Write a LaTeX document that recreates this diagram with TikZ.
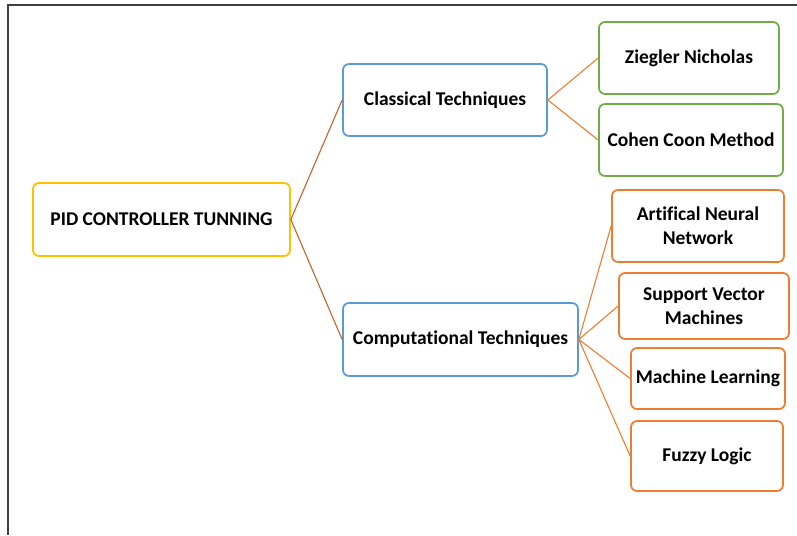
\documentclass[tikz,border=0pt]{standalone}
\usepackage{fontspec}
\setmainfont{Carlito}[Ligatures=NoCommon]
\usepackage{tikz}
\usetikzlibrary{positioning}

\definecolor{pidyellow}{HTML}{FFC000}
\definecolor{techblue}{HTML}{5B9BD5}
\definecolor{classgreen}{HTML}{70AD47}
\definecolor{comporange}{HTML}{ED7D31}
\definecolor{linkbrown}{HTML}{C0652A}

\begin{document}
\begin{tikzpicture}[%
    x=1pt, y=-1pt,
    box/.style={draw, rounded corners=6pt, line width=1.7pt, fill=white,
                font=\bfseries\fontsize{19.5}{24}\selectfont, align=center,
                inner sep=2pt},
    root/.style={box, draw=pidyellow},
    tech/.style={box, draw=techblue},
    classic/.style={box, draw=classgreen},
    comp/.style={box, draw=comporange},
    link/.style={draw=comporange, line width=1.1pt},
    trunk/.style={draw=linkbrown, line width=1.1pt},
  ]
    \useasboundingbox (0,0) rectangle (797,535);
    \draw[line width=1.2pt, black!75] (8,535) -- (8,5) -- (797,5);

    \node (pid)   [root, minimum width=257pt, minimum height=73pt] at (161.5,219.5) {PID CONTROLLER TUNNING};
    \node (class) [tech, minimum width=204pt, minimum height=72pt] at (445,100)   {Classical Techniques};
    \node (compu) [tech, minimum width=235pt, minimum height=73pt] at (460.5,339.5) {Computational Techniques};

    \node (zn)  [classic, minimum width=180pt, minimum height=72pt] at (689,58)    {Ziegler Nicholas};
    \node (cc)  [classic, minimum width=184pt, minimum height=72pt] at (691,140)   {Cohen Coon Method};

    \node (ann) [comp, minimum width=172pt, minimum height=72pt] at (698,226)   {Artifical Neural\\Network};
    \node (svm) [comp, minimum width=170pt, minimum height=66pt] at (704,306)   {Support Vector\\Machines};
    \node (ml)  [comp, minimum width=154pt, minimum height=61pt] at (708,378.5) {Machine Learning};
    \node (fl)  [comp, minimum width=152pt, minimum height=70pt] at (707,456)   {Fuzzy Logic};

    \path[trunk] (pid.east) -- (class.west)
                 (pid.east) -- (compu.west);
    \path[link]  (class.east) -- (zn.west)
                 (class.east) -- (cc.west)
                 (compu.east) -- (ann.west)
                 (compu.east) -- (svm.west)
                 (compu.east) -- (ml.west)
                 (compu.east) -- (fl.west);
  \end{tikzpicture}
\end{document}
